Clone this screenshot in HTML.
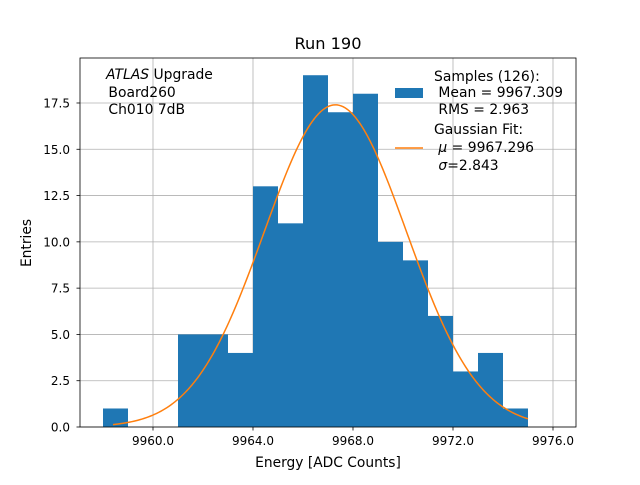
<!DOCTYPE html>
<html><head><meta charset="utf-8"><style>
body{margin:0;background:#fff}
svg text{font-family:"DejaVu Sans","Liberation Sans",sans-serif;fill:#000}
</style></head><body>
<svg id="chart" width="640" height="480" xmlns="http://www.w3.org/2000/svg">
<rect width="640" height="480" fill="#fff"/>
<g id="grid"></g>
<g id="bars"></g>
<path id="fit" fill="none" stroke="#ff7f0e" stroke-width="1.5"/>
<rect x="80" y="58" width="496" height="369" fill="none" stroke="#000" stroke-width="0.8"/>
<g id="ticks"></g>
<text x="328" y="49" font-size="16.2" text-anchor="middle">Run 190</text>
<text x="328" y="467" font-size="13.8" text-anchor="middle">Energy [ADC Counts]</text>
<text transform="translate(31,243) rotate(-90)" font-size="13.8" text-anchor="middle">Entries</text>
<g font-size="13.9">
<text x="106" y="79"><tspan font-style="italic">ATLAS</tspan> Upgrade</text>
<text x="104" y="97" xml:space="preserve"> Board260</text>
<text x="104" y="114" xml:space="preserve"> Ch010 7dB</text>
</g>
<g font-size="13.9">
<rect x="395" y="88" width="28" height="10" fill="#1f77b4"/>
<text x="434" y="81">Samples (126):</text>
<text x="434" y="97" xml:space="preserve"> Mean = 9967.309</text>
<text x="434" y="114" xml:space="preserve"> RMS = 2.963</text>
<line x1="395" x2="423" y1="148" y2="148" stroke="#ff7f0e" stroke-width="1.5"/>
<text x="434" y="134">Gaussian Fit:</text>
<text x="434" y="152" xml:space="preserve"> <tspan font-style="italic">μ</tspan> = 9967.296</text>
<text x="434" y="170" xml:space="preserve"> <tspan font-style="italic">σ</tspan>=2.843</text>
</g>
</svg>
<script>
const binEdgesStart = [9958,9961,9962,9963,9964,9965,9966,9967,9968,9969,9970,9971,9972,9973,9974];
const counts = [1,5,5,4,13,11,19,17,18,10,9,6,3,4,1];
const xTicks = [9960,9964,9968,9972,9976];
const xTickLabels = ["9960.0","9964.0","9968.0","9972.0","9976.0"];
const yTicks = [0,2.5,5,7.5,10,12.5,15,17.5];
const yTickLabels = ["0.0","2.5","5.0","7.5","10.0","12.5","15.0","17.5"];
const fitMu = 9967.296, fitSigma = 2.843, fitAmp = 17.4;
const fitRange = [9958.4, 9975.0];
const binWidth = 1;

const X0=80,X1=576,Y0=427,Y1=58;
const xmin=9957.08,xmax=9976.92,ymin=0,ymax=19.93;
const sx=v=>X0+(v-xmin)/(xmax-xmin)*(X1-X0);
const sy=v=>Y0-(v-ymin)/(ymax-ymin)*(Y0-Y1);
const NS="http://www.w3.org/2000/svg";
const mk=(t,a,p)=>{const e=document.createElementNS(NS,t);for(const k in a)e.setAttribute(k,a[k]);p.appendChild(e);return e;};
const grid=document.getElementById('grid'),bars=document.getElementById('bars'),ticks=document.getElementById('ticks');
xTicks.forEach((v,i)=>{
  const g=mk('line',{x1:sx(v),x2:sx(v),y1:Y1,y2:Y0,stroke:'#b0b0b0','stroke-width':0.8},grid);
  
  
  const t=mk('line',{x1:sx(v),x2:sx(v),y1:Y0,y2:Y0+3.5,stroke:'#000','stroke-width':0.8},ticks);
  
  
  const l=mk('text',{x:sx(v),y:Y0+18,'font-size':12,'text-anchor':'middle'},ticks);
  l.textContent=xTickLabels[i];
  
  
});
yTicks.forEach((v,i)=>{
  const g=mk('line',{x1:X0,x2:X1,y1:sy(v),y2:sy(v),stroke:'#b0b0b0','stroke-width':0.8},grid);
  
  
  const t=mk('line',{x1:X0-3.5,x2:X0,y1:sy(v),y2:sy(v),stroke:'#000','stroke-width':0.8},ticks);
  
  
  const l=mk('text',{x:X0-10,y:sy(v)+4.5,'font-size':12,'text-anchor':'end'},ticks);
  l.textContent=yTickLabels[i];
  
  
});
binEdgesStart.forEach((b,i)=>{
  const r=mk('rect',{x:sx(b),y:sy(counts[i]),width:sx(b+binWidth)-sx(b),height:sy(0)-sy(counts[i]),fill:'#1f77b4'},bars);
  
  
});
let d='';
for(let k=0;k<=200;k++){
  const x=fitRange[0]+(fitRange[1]-fitRange[0])*k/200;
  const y=fitAmp*Math.exp(-0.5*((x-fitMu)/fitSigma)**2);
  d+=(k?'L':'M')+sx(x).toFixed(2)+','+sy(y).toFixed(2);
}
document.getElementById('fit').setAttribute('d',d);
</script>
</body></html>
